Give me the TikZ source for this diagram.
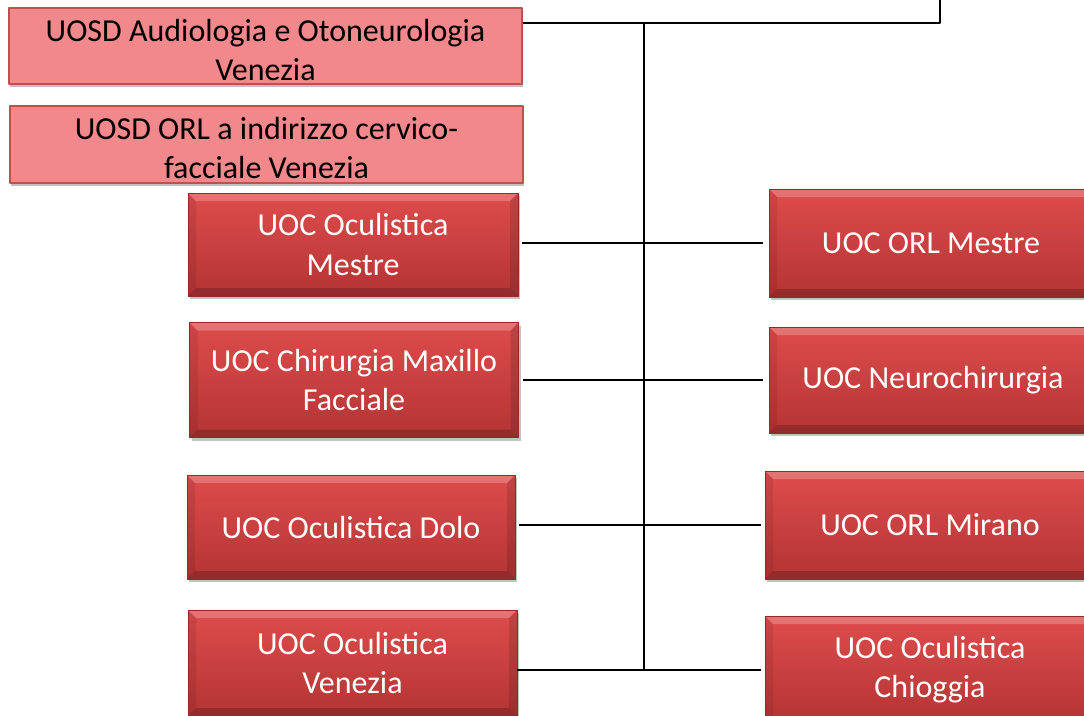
\documentclass[tikz,border=0pt]{standalone}
\usepackage{fontspec}
\setmainfont{Carlito}
\usepackage{tikz}
\usetikzlibrary{shapes,shadows,positioning}
\definecolor{rosa}{RGB}{241,136,139}
\definecolor{rosabordo}{RGB}{192,80,77}
\definecolor{rossoalto}{RGB}{222,76,76}
\definecolor{rossobasso}{RGB}{180,52,52}
\definecolor{rossobordo}{RGB}{150,40,40}

\begin{document}
\begin{tikzpicture}[line cap=round,line join=round,x=0.75pt,y=-0.75pt,
		font=\fontsize{24}{29.25}\selectfont,
		uosd/.style={draw=rosabordo,line width=1.1pt,fill=rosa,align=center,
			inner sep=0pt,text height=51.5pt,text depth=0pt,drop shadow={shadow xshift=1pt,
			shadow yshift=-2.5pt,opacity=0.45,fill=black!55}},
		uoc/.style={draw=rossobordo,line width=0.5pt,top color=rossoalto,
			bottom color=rossobasso,text=white,align=center,inner sep=0pt,
			drop shadow={shadow xshift=1.5pt,shadow yshift=-2.5pt,
			opacity=0.4,fill=black!60},
			path picture={%smusso
				\coordinate (nw) at (path picture bounding box.north west);
				\coordinate (ne) at (path picture bounding box.north east);
				\coordinate (sw) at (path picture bounding box.south west);
				\coordinate (se) at (path picture bounding box.south east);
				\fill[white,opacity=0.22] (nw) -- (ne) -- ([shift={(-6pt,-6pt)}]ne)
					-- ([shift={(6pt,-6pt)}]nw) -- cycle;
				\fill[black,opacity=0.18] (sw) -- (se) -- ([shift={(-6pt,6pt)}]se)
					-- ([shift={(6pt,6pt)}]sw) -- cycle;
				\fill[black,opacity=0.08] (nw) -- ([shift={(6pt,-6pt)}]nw)
					-- ([shift={(6pt,6pt)}]sw) -- (sw) -- cycle;
				\fill[black,opacity=0.12] (ne) -- ([shift={(-6pt,-6pt)}]ne)
					-- ([shift={(-6pt,6pt)}]se) -- (se) -- cycle;}},
		filo/.style={line width=1.5pt,line cap=butt}]
	\useasboundingbox (0,0) rectangle (1084,715);
	\clip (0,0) rectangle (1084,715);
	% UOSD
	\node[uosd,minimum width=384.75pt,minimum height=57pt] (audio) at (265.5,46)
		{UOSD Audiologia e Otoneurologia\\Venezia};
	\node[uosd,minimum width=384.75pt,minimum height=57.75pt] (orlcf) at (266.5,144.5)
		{UOSD ORL a indirizzo cervico-\\facciale Venezia};
	% UOC colonna sinistra
	\node[uoc,minimum width=247.5pt,minimum height=77.25pt] (ocmestre) at (353,244.5)
		{UOC Oculistica\\Mestre};
	\node[uoc,minimum width=246.75pt,minimum height=86.25pt] (chirurgia) at (354,380)
		{UOC Chirurgia Maxillo\\Facciale};
	\node[uoc,minimum width=246pt,minimum height=78pt] (dolo) at (351,527)
		{UOC Oculistica Dolo};
	\node[uoc,minimum width=246.75pt,minimum height=79.5pt] (ocvenezia) at (352.5,663)
		{UOC Oculistica\\Venezia};
	% UOC colonna destra
	\node[uoc,minimum width=243pt,minimum height=81pt] (orlmestre) at (931,243)
		{UOC ORL Mestre};
	\node[uoc,minimum width=246pt,minimum height=79.5pt] (neuro) at (933,380)
		{UOC Neurochirurgia};
	\node[uoc,minimum width=247.5pt,minimum height=81pt] (mirano) at (930,525)
		{UOC ORL Mirano};
	\node[uoc,minimum width=247.5pt,minimum height=81pt] (chioggia) at (930,670)
		{UOC Oculistica\\Chioggia};
	% linee
	\coordinate (j0) at (644,23);
	\coordinate (su) at (940,0);
	\draw[filo] (su) -- (j0 -| su) -- (j0);%verso l'alto
	\draw[filo] (audio.east |- j0) -- (j0);
	\draw[filo] (j0) -- (j0 |- chioggia.west);%asse
	\draw[filo,shorten <=3pt,shorten >=4pt] (ocmestre.east |- orlmestre.west) -- (orlmestre.west);
	\draw[filo,shorten <=3pt,shorten >=4pt] (chirurgia.east |- neuro.west) -- (neuro.west);
	\draw[filo,shorten <=3pt,shorten >=3pt] (dolo.east |- mirano.west) -- (mirano.west);
	\draw[filo,shorten >=3pt] (ocvenezia.east |- chioggia.west) -- (chioggia.west);
\end{tikzpicture}
\end{document}
